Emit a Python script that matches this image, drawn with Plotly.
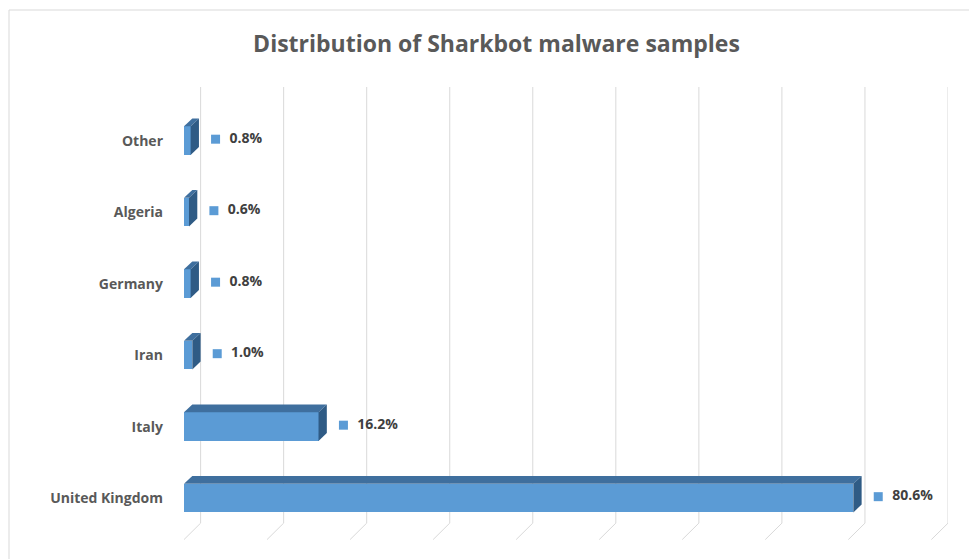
import plotly.graph_objects as go

categories = ["United Kingdom", "Italy", "Iran", "Germany", "Algeria", "Other"]
values = [80.6, 16.2, 1.0, 0.8, 0.6, 0.8]
labels = ["80.6%", "16.2%", "1.0%", "0.8%", "0.6%", "0.8%"]
grid_ticks = list(range(0, 100, 10))

front = "#5B9BD5"
top = "#3F6F9E"
side = "#2F5B85"
hw = 0.2
dx, dy = 1.0, 0.11

fig = go.Figure()
shapes = []
for g in grid_ticks:
    shapes.append(dict(type="line", xref="x", yref="y", x0=g + 2, x1=g + 2, y0=-0.35, y1=5.75,
                       line=dict(color="#D9D9D9", width=1), layer="below"))
    shapes.append(dict(type="line", xref="x", yref="y", x0=g + 2, x1=g, y0=-0.35, y1=-0.58,
                       line=dict(color="#D9D9D9", width=1), layer="below"))
for i, v in enumerate(values):
    y0, y1 = i - hw, i + hw
    shapes.append(dict(type="path", xref="x", yref="y", layer="above",
                       path=f"M 0 {y1} L {dx} {y1+dy} L {v+dx} {y1+dy} L {v} {y1} Z",
                       fillcolor=top, line=dict(width=0)))
    shapes.append(dict(type="path", xref="x", yref="y", layer="above",
                       path=f"M {v} {y0} L {v+dx} {y0+dy} L {v+dx} {y1+dy} L {v} {y1} Z",
                       fillcolor=side, line=dict(width=0)))

fig.add_trace(go.Bar(y=list(range(len(categories))), x=values, orientation="h",
                     width=2 * hw, marker=dict(color=front, line=dict(width=0)),
                     hoverinfo="skip"))
fig.add_trace(go.Scatter(y=[i + 0.02 for i in range(len(categories))], x=[v + 3 for v in values],
                         mode="markers+text", text=["  " + t for t in labels], textposition="middle right",
                         marker=dict(symbol="square", size=9, color=front),
                         textfont=dict(family="Open Sans", size=14, color="#404040", weight="bold"),
                         hoverinfo="skip", cliponaxis=False))

fig.update_layout(
    width=977, height=559, showlegend=False,
    paper_bgcolor="white", plot_bgcolor="white",
    margin=dict(l=176, r=37, t=79, b=26, autoexpand=False),
    title=dict(text="<b>Distribution of Sharkbot malware samples</b>", x=0.5, xanchor="center",
               y=0.935, yanchor="middle", automargin=False,
               font=dict(family="Open Sans", size=23, color="#595959")),
    xaxis=dict(range=[0, 92], showgrid=False, showticklabels=False, zeroline=False, automargin=False),
    yaxis=dict(range=[-0.6, 5.75], tickvals=list(range(len(categories))), ticktext=categories,
               showgrid=False, zeroline=False, ticks="", ticklabelstandoff=20, automargin=False,
               tickfont=dict(family="Open Sans", size=14, color="#595959", weight="bold")),
    shapes=shapes + [dict(type="rect", xref="paper", yref="paper", x0=-175/764, x1=1+35/764,
                          y0=-24/454, y1=1+77/454, line=dict(color="#D9D9D9", width=1))],
    bargap=0,
)
fig.write_html("out.html")
